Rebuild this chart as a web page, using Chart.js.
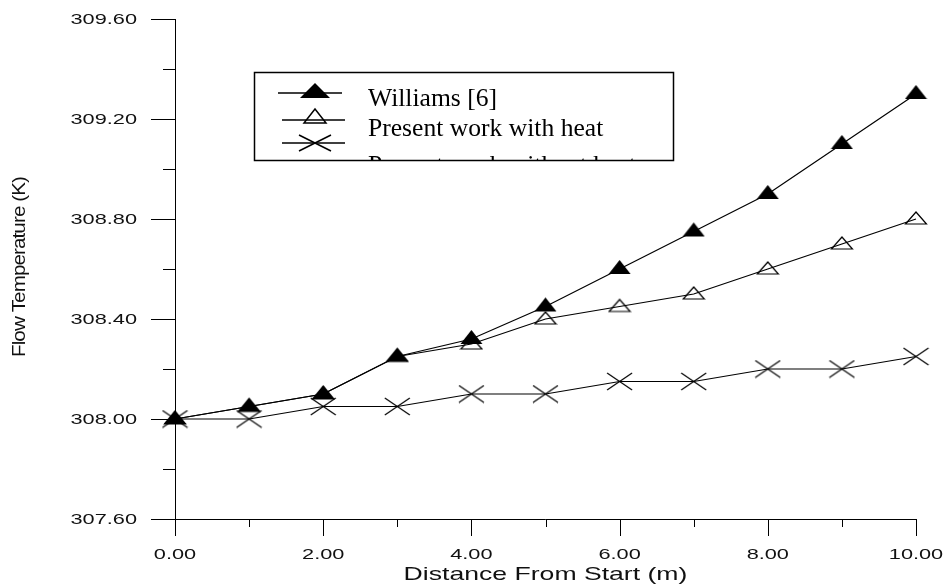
<!DOCTYPE html>
<html>
<head>
<meta charset="utf-8">
<script src="https://cdn.jsdelivr.net/npm/chart.js@4.4.1/dist/chart.umd.min.js"></script>
<style>
  html, body { margin: 0; padding: 0; background: #fff; }
  #wrap { width: 947px; height: 586px; position: relative; }
</style>
</head>
<body>
<div id="wrap"><canvas id="grafica"></canvas></div>
<script>
// Datos: temperatura del flujo vs distancia
const distancias = [0, 1, 2, 3, 4, 5, 6, 7, 8, 9, 10];
const williams = [308.00, 308.05, 308.10, 308.25, 308.32, 308.45, 308.60, 308.75, 308.90, 309.10, 309.30];
const conCalor = [308.00, 308.05, 308.10, 308.25, 308.30, 308.40, 308.45, 308.50, 308.60, 308.70, 308.80];
const sinCalor = [308.00, 308.00, 308.05, 308.05, 308.10, 308.10, 308.15, 308.15, 308.20, 308.20, 308.25];

const nombres = ["Williams [6]", "Present work with heat", "Present work without heat"];

// Marcas de los ejes
const yMayores = [307.6, 308.0, 308.4, 308.8, 309.2, 309.6];
const yMenores = [307.8, 308.2, 308.6, 309.0, 309.4];
const xMayores = [0, 2, 4, 6, 8, 10];
const xMenores = [1, 3, 5, 7, 9];

const tituloX = "Distance From Start (m)";
const tituloY = "Flow Temperature (K)";

// ── Marcadores dibujados a mano ──
function marcador(tipo) {
  const c = document.createElement("canvas");
  const ctx = c.getContext("2d");
  if (tipo === "trianguloLleno") {
    c.width = 23; c.height = 20;
    ctx.fillStyle = "#000";
    ctx.beginPath();
    ctx.moveTo(11.5, 1); ctx.lineTo(22.5, 15); ctx.lineTo(0.5, 15); ctx.closePath();
    ctx.fill();
  } else if (tipo === "trianguloVacio") {
    c.width = 24; c.height = 18;
    ctx.strokeStyle = "#000"; ctx.lineWidth = 1.2;
    ctx.beginPath();
    ctx.moveTo(12, 2); ctx.lineTo(22.5, 14); ctx.lineTo(1.5, 14); ctx.closePath();
    ctx.stroke();
  } else {
    c.width = 27; c.height = 19;
    ctx.strokeStyle = "#000"; ctx.lineWidth = 1.2;
    ctx.beginPath();
    ctx.moveTo(1, 1); ctx.lineTo(26, 18);
    ctx.moveTo(1, 18); ctx.lineTo(26, 1);
    ctx.stroke();
  }
  return c;
}

function puntos(valores) {
  return distancias.map((x, i) => ({ x: x, y: valores[i] }));
}

// Texto estirado en horizontal
function textoAncho(ctx, texto, x, y, escala, alineacion) {
  ctx.save();
  ctx.translate(x, y);
  ctx.scale(escala, 1);
  ctx.textAlign = alineacion;
  ctx.fillText(texto, 0, 0);
  ctx.restore();
}

// ── Ejes, títulos y leyenda ──
const ejesYLeyenda = {
  id: "ejesYLeyenda",
  afterDraw(chart) {
    const ctx = chart.ctx;
    const sx = chart.scales.x;
    const sy = chart.scales.y;
    const izq = sx.getPixelForValue(0);
    const der = sx.getPixelForValue(10);
    const arriba = sy.getPixelForValue(309.6);
    const abajo = sy.getPixelForValue(307.6);

    ctx.save();
    ctx.strokeStyle = "#000";
    ctx.lineWidth = 1;

    // líneas de los ejes
    ctx.beginPath();
    ctx.moveTo(izq + 0.5, arriba);
    ctx.lineTo(izq + 0.5, abajo + 0.5);
    ctx.lineTo(der, abajo + 0.5);
    ctx.stroke();

    // marcas eje Y
    ctx.beginPath();
    yMayores.forEach(v => {
      const p = Math.round(sy.getPixelForValue(v)) + 0.5;
      ctx.moveTo(izq - 24, p); ctx.lineTo(izq, p);
    });
    yMenores.forEach(v => {
      const p = Math.round(sy.getPixelForValue(v)) + 0.5;
      ctx.moveTo(izq - 12, p); ctx.lineTo(izq, p);
    });
    // marcas eje X
    xMayores.forEach(v => {
      const p = Math.round(sx.getPixelForValue(v)) + 0.5;
      ctx.moveTo(p, abajo); ctx.lineTo(p, abajo + 17);
    });
    xMenores.forEach(v => {
      const p = Math.round(sx.getPixelForValue(v)) + 0.5;
      ctx.moveTo(p, abajo); ctx.lineTo(p, abajo + 8);
    });
    ctx.stroke();

    // etiquetas
    ctx.fillStyle = "#111";
    ctx.font = "15px 'Liberation Sans', Arial, sans-serif";
    ctx.textBaseline = "middle";
    yMayores.forEach(v => {
      textoAncho(ctx, v.toFixed(2), 137, sy.getPixelForValue(v) + 1, 1.45, "right");
    });
    xMayores.forEach(v => {
      textoAncho(ctx, v.toFixed(2), sx.getPixelForValue(v), 555, 1.45, "center");
    });

    // títulos
    ctx.textBaseline = "alphabetic";
    ctx.font = "19px 'Liberation Sans', Arial, sans-serif";
    textoAncho(ctx, tituloX, (izq + der) / 2, 580, 1.4, "center");

    ctx.font = "18px 'Liberation Sans', Arial, sans-serif";
    ctx.letterSpacing = "-0.8px";
    const largo = ctx.measureText(tituloY).width;
    ctx.save();
    ctx.translate(25, 267);
    ctx.rotate(-Math.PI / 2);
    ctx.scale(180 / largo, 1);
    ctx.textAlign = "center";
    ctx.fillText(tituloY, 0, 0);
    ctx.restore();
    ctx.letterSpacing = "0px";

    // leyenda recortada dentro de su caja
    const caja = { x: 254, y: 72, w: 419, h: 88 };
    ctx.fillStyle = "#fff";
    ctx.fillRect(caja.x, caja.y, caja.w, caja.h);
    ctx.save();
    ctx.beginPath();
    ctx.rect(caja.x, caja.y, caja.w, caja.h);
    ctx.clip();

    const filas = [
      { linea: 93, texto: 106, x0: 278, x1: 342 },
      { linea: 120, texto: 136, x0: 282, x1: 345 },
      { linea: 143, texto: 173, x0: 282, x1: 345 }
    ];
    ctx.strokeStyle = "#000";
    ctx.fillStyle = "#000";
    ctx.lineWidth = 1.5;
    filas.forEach((f, i) => {
      ctx.beginPath();
      ctx.moveTo(f.x0, f.linea); ctx.lineTo(f.x1, f.linea);
      ctx.stroke();
      const cx = 315;
      ctx.beginPath();
      if (i === 0) {
        ctx.moveTo(cx, f.linea - 10); ctx.lineTo(cx + 15, f.linea + 5); ctx.lineTo(cx - 15, f.linea + 5);
        ctx.closePath(); ctx.fill();
      } else if (i === 1) {
        ctx.moveTo(cx, f.linea - 11); ctx.lineTo(cx + 11, f.linea + 3); ctx.lineTo(cx - 11, f.linea + 3);
        ctx.closePath(); ctx.stroke();
      } else {
        ctx.moveTo(cx - 16, f.linea - 8); ctx.lineTo(cx + 16, f.linea + 8);
        ctx.moveTo(cx - 16, f.linea + 8); ctx.lineTo(cx + 16, f.linea - 8);
        ctx.stroke();
      }
      ctx.font = "25.6px 'Liberation Serif', 'Times New Roman', serif";
      ctx.textAlign = "left";
      ctx.fillText(nombres[i], 368, f.texto);
    });
    ctx.restore();

    ctx.lineWidth = 1.5;
    ctx.strokeRect(caja.x + 0.5, caja.y + 0.5, caja.w, caja.h);
    ctx.restore();
  }
};

new Chart(document.getElementById("grafica"), {
  type: "line",
  data: {
    datasets: [
      {
        label: nombres[0],
        data: puntos(williams),
        borderColor: "#000",
        borderWidth: 1.2,
        pointStyle: marcador("trianguloLleno"),
        tension: 0
      },
      {
        label: nombres[1],
        data: puntos(conCalor),
        borderColor: "#000",
        borderWidth: 1.2,
        pointStyle: marcador("trianguloVacio"),
        tension: 0
      },
      {
        label: nombres[2],
        data: puntos(sinCalor),
        borderColor: "#000",
        borderWidth: 1.2,
        pointStyle: marcador("equis"),
        tension: 0
      }
    ]
  },
  options: {
    responsive: true,
    maintainAspectRatio: false,
    animation: false,
    clip: false,
    layout: { padding: { left: 175, top: 19, right: 31, bottom: 67 } },
    plugins: {
      legend: { display: false },
      tooltip: { enabled: false }
    },
    scales: {
      x: { type: "linear", display: false, min: 0, max: 10 },
      y: { type: "linear", display: false, min: 307.6, max: 309.6 }
    }
  },
  plugins: [ejesYLeyenda]
});
</script>
</body>
</html>
